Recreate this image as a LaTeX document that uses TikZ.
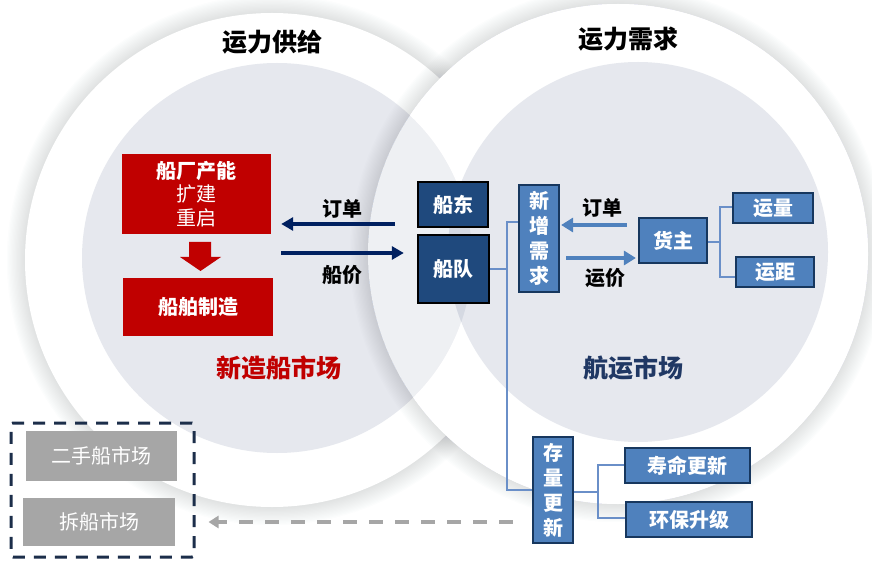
\documentclass[tikz,border=0pt]{standalone}
\usepackage{fontspec}
\newfontfamily\cjk{Noto Sans CJK SC}
\usetikzlibrary{arrows.meta}
\definecolor{myred}{HTML}{C00000}
\definecolor{navyarrow}{HTML}{002060}
\definecolor{navyfill}{HTML}{1F497D}
\definecolor{bluefill}{HTML}{4F81BD}
\definecolor{bluedark}{HTML}{17375E}
\definecolor{linkblue}{HTML}{6A8FC8}
\definecolor{innergray}{HTML}{E6E8EE}
\definecolor{lensgray}{HTML}{D5D9E2}
\definecolor{boxgray}{HTML}{A6A6A6}
\definecolor{dashnavy}{HTML}{1C2E4A}
\definecolor{shipblue}{HTML}{203864}
\definecolor{glow}{RGB}{80,92,125}
\begin{document}
\begin{tikzpicture}[x=1pt,y=-1pt,
  redbox/.style={fill=myred,draw=none,text=white,inner sep=0pt,align=center},
  navybox/.style={fill=navyfill,draw=black,line width=2.4pt,text=white,inner sep=0pt,font=\cjk\bfseries\fontsize{20}{24}\selectfont},
  bluebox/.style={fill=bluefill,draw=bluedark,line width=2.2pt,text=white,inner sep=0pt,align=center,font=\cjk\bfseries\fontsize{20}{25}\selectfont},
  graybox/.style={fill=boxgray,draw=none,text=white,inner sep=0pt,font=\cjk\fontsize{20}{24}\selectfont},
  lbl/.style={text=black,font=\cjk\bfseries\fontsize{20}{24}\selectfont},
  ttl/.style={text=black,font=\cjk\bfseries\fontsize{25}{30}\selectfont},
  navyarr/.style={draw=navyarrow,line width=3.6pt,-{Triangle[length=12pt,width=13pt]}},
  bluearr/.style={draw=bluefill,line width=4pt,-{Triangle[length=12pt,width=14pt]}},
  link/.style={draw=linkblue,line width=1.3pt},
]
\useasboundingbox (0,0) rectangle (872,561);
\fill[white] (0,0) rectangle (872,561);
% left circle
\foreach \k in {1,...,14} \fill[glow,opacity=0.011] (272,260) circle ({247+\k*1.3});
\fill[white] (272,260) circle (247);
\fill[innergray] (277,258) circle (195);
% right circle: glow as rings outside the circle only
\foreach \k in {1,...,14} \fill[glow,opacity=0.011,even odd rule] (618,254) circle ({250+\k*1.3}) (618,254) circle (250);
\begin{scope}[even odd rule]
  \clip (-10,-10) rectangle (882,571) (277,258) circle (195);
  \fill[white] (618,254) circle (250);
\end{scope}
\begin{scope}
  \clip (277,258) circle (195);
  \fill[white,opacity=0.35] (618,254) circle (250);
\end{scope}
\fill[innergray] (638,252) circle (190);
\begin{scope}
  \clip (277,258) circle (195);
  \fill[lensgray] (638,252) circle (190);
\end{scope}

% titles
\node[ttl] (t1) at (272,42) {运力供给};
\node[ttl] (t2) at (628,39) {运力需求};
\node[text=myred,font=\cjk\bfseries\fontsize{25}{30}\selectfont] (m1) at (279,368) {新造船市场};
\node[text=shipblue,font=\cjk\bfseries\fontsize{25}{30}\selectfont] (m2) at (633,368) {航运市场};

% supply side
\node[redbox,minimum width=149pt,minimum height=80pt,font=\cjk\fontsize{20}{23.5}\selectfont] (cap) at (196.5,194) {{\bfseries 船厂产能}\\扩建\\重启};
\node[redbox,minimum width=150pt,minimum height=58pt,font=\cjk\bfseries\fontsize{20}{24}\selectfont] (build) at (198,307) {船舶制造};
\fill[myred] (189,242) -- (211,242) -- (211,257) -- (221,257) -- (200.5,271) -- (180,257) -- (189,257) -- cycle;

\node[navybox,minimum width=70pt,minimum height=45pt] (owner) at (453,204.5) {船东};
\node[navybox,minimum width=71pt,minimum height=68pt] (fleet) at (453.5,269) {船队};

\draw[navyarr,shorten <=22pt,shorten >=10pt] (owner.west |- 0,224) -- (cap.east |- 0,224);
\draw[navyarr,shorten <=10pt,shorten >=13pt] (cap.east |- 0,253) -- (fleet.west |- 0,253);
\node[lbl] (l1) at (342,209) {订单};
\node[lbl] (l2) at (342,275) {船价};

% demand side
\node[bluebox,minimum width=40pt,minimum height=107pt] (xz) at (539,238.5) {新\\增\\需\\求};
\node[bluebox,minimum width=68pt,minimum height=45pt] (hz) at (673,240.5) {货主};
\node[bluebox,minimum width=80pt,minimum height=30pt] (yl) at (773,208) {运量};
\node[bluebox,minimum width=78pt,minimum height=30pt] (yj) at (775,272) {运距};
\node[bluebox,minimum width=40pt,minimum height=106pt] (cl) at (553,490) {存\\量\\更\\新};
\node[bluebox,minimum width=125pt,minimum height=35pt] (sm) at (687.5,465.5) {寿命更新};
\node[bluebox,minimum width=126pt,minimum height=35pt] (hb) at (689,519.5) {环保升级};

\draw[bluearr,shorten <=11pt,shorten >=1pt] (hz.west |- 0,225) -- (xz.east |- 0,225);
\draw[bluearr,shorten <=6pt,shorten >=2pt] (xz.east |- 0,258) -- (hz.west |- 0,258);
\node[lbl] (l3) at (602,208) {订单};
\node[lbl] (l4) at (605,278) {运价};

% tree links
\coordinate (ta) at (507,222);
\coordinate (tb) at (507,490);
\draw[link] (xz.west |- ta) -- (ta) -- (tb) -- (cl.west |- tb);
\draw[link] (fleet.east) -- (fleet.east -| ta);
\coordinate (hj) at (720,242);
\draw[link] (hz.east |- hj) -- (hj);
\draw[link] (yl.west |- 0,207) -| (hj) |- (yj.west |- 0,277);
\coordinate (cj) at (598,492);
\draw[link] (cl.east |- cj) -- (cj);
\draw[link] (sm.west |- 0,465) -| (cj) |- (hb.west |- 0,518);

% second-hand / demolition
\node[draw=dashnavy,line width=3pt,dash pattern=on 12pt off 9pt,rounded corners=2pt,minimum width=183pt,minimum height=134pt,inner sep=0pt] (dbox) at (102.5,490) {};
\node[graybox,minimum width=151pt,minimum height=50pt] (esc) at (101.5,456) {二手船市场};
\node[graybox,minimum width=152pt,minimum height=48pt] (cc) at (99,522) {拆船市场};
\draw[draw=boxgray,line width=4pt,dash pattern=on 14pt off 12pt,-{Triangle[length=10pt,width=12pt]},shorten <=19pt,shorten >=13pt] (cl.west |- 0,522) -- (dbox.east |- 0,522);
\end{tikzpicture}
\end{document}
